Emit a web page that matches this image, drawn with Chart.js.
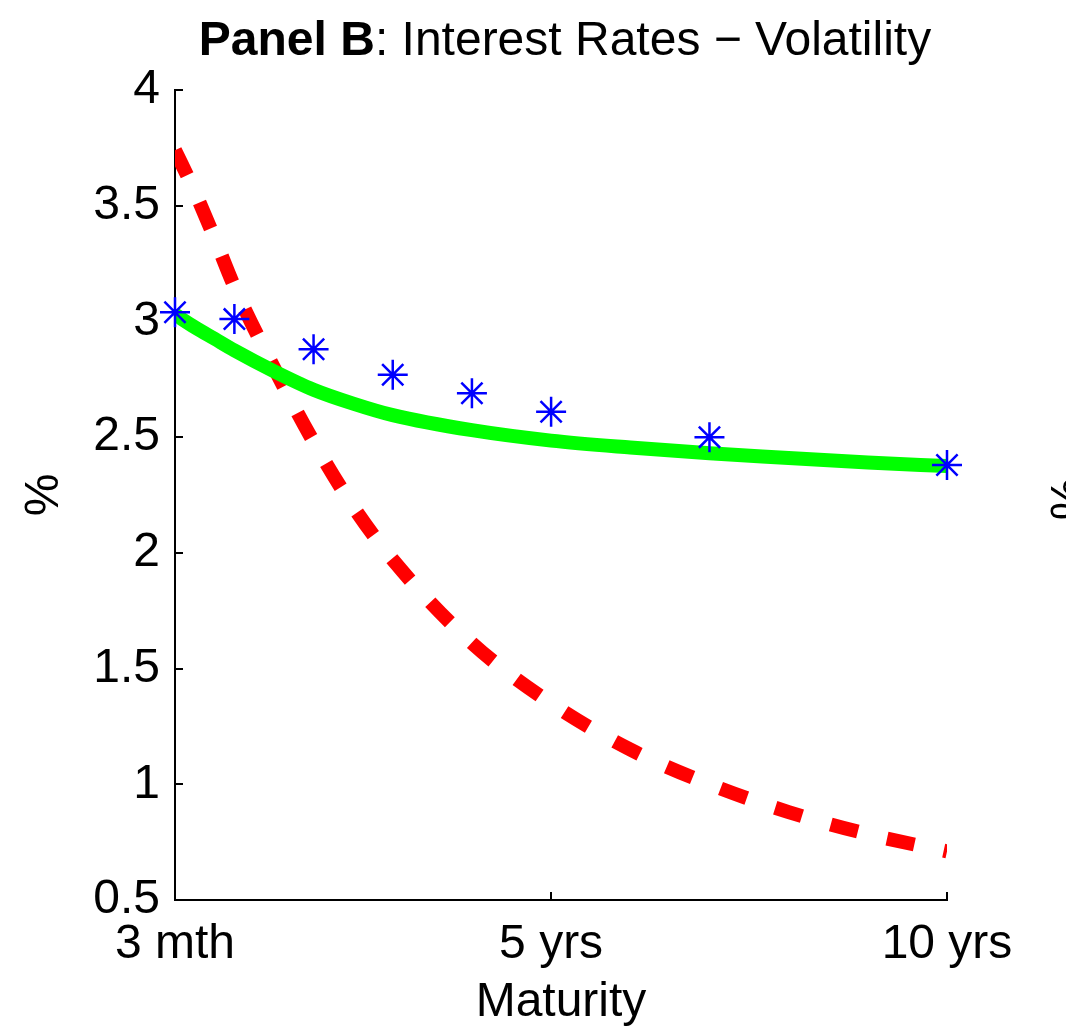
<!DOCTYPE html>
<html>
<head>
<meta charset="utf-8">
<script src="https://cdn.jsdelivr.net/npm/chart.js@4.4.1/dist/chart.umd.min.js"></script>
<style>
  html, body { margin: 0; padding: 0; background: #fff; }
  #wrap { width: 1070px; height: 1028px; }
</style>
</head>
<body>
<div id="wrap"><canvas id="volChart" width="1070" height="1028"></canvas></div>
<script>
// maturities in months
const curveMonths = [3, 6, 9, 12, 18, 24, 30, 36, 48, 60, 72, 84, 96, 108, 120];
const fittedVol = [3.03, 2.975, 2.925, 2.875, 2.785, 2.705, 2.645, 2.595, 2.53, 2.485, 2.455, 2.43, 2.41, 2.39, 2.375];
const altVol = [3.74, 3.56, 3.36, 3.15, 2.80, 2.48, 2.20, 1.97, 1.61, 1.35, 1.15, 1.00, 0.88, 0.785, 0.71];

const dataMonths = [3, 12, 24, 36, 48, 60, 84, 120];
const dataVol = [3.04, 3.01, 2.88, 2.77, 2.69, 2.61, 2.50, 2.38];

const xTickValues = [3, 60, 120];
const xTickLabels = ["3 mth", "5 yrs", "10 yrs"];

const FONT = '"Liberation Sans", Arial, Helvetica, sans-serif';
Chart.defaults.font.family = FONT;
Chart.defaults.color = "#000";

function toPoints(xs, ys) {
  return xs.map((x, i) => ({ x: x, y: ys[i] }));
}

// --------- title + clipped neighbour label ----------
const textPlugin = {
  id: "panelText",
  afterDraw(chart) {
    const ctx = chart.ctx;
    ctx.save();
    ctx.fillStyle = "#000";
    ctx.textBaseline = "alphabetic";
    const boldPart = "Panel B";
    const restPart = ": Interest Rates \u2212 Volatility";
    ctx.font = "bold 48px " + FONT;
    const w1 = ctx.measureText(boldPart).width;
    ctx.font = "48px " + FONT;
    const w2 = ctx.measureText(restPart).width;
    const x0 = 565 - (w1 + w2) / 2;
    ctx.font = "bold 48px " + FONT;
    ctx.textAlign = "left";
    ctx.fillText(boldPart, x0, 55);
    ctx.font = "48px " + FONT;
    ctx.fillText(restPart, x0 + w1, 55);

    // y label of the next panel, cut by the edge
    ctx.beginPath();
    ctx.rect(1000, 440, 66, 120);
    ctx.clip();
    ctx.translate(1071, 499);
    ctx.rotate(-Math.PI / 2);
    ctx.textAlign = "center";
    ctx.textBaseline = "middle";
    ctx.fillText("%", 0, 0);
    ctx.restore();
  },
};

new Chart(document.getElementById("volChart"), {
  type: "line",
  data: {
    datasets: [
      {
        label: "Data",
        data: toPoints(dataMonths, dataVol),
        showLine: false,
        pointStyle: "star",
        pointRadius: 15,
        pointBorderWidth: 2.5,
        borderColor: "#0000ff",
        backgroundColor: "#0000ff",
        clip: false,
        order: 0,
      },
      {
        label: "Fitted",
        data: toPoints(curveMonths, fittedVol),
        borderColor: "#00ff00",
        borderWidth: 14,
        borderCapStyle: "butt",
        pointRadius: 0,
        cubicInterpolationMode: "monotone",
        order: 1,
      },
      {
        label: "Alternative",
        data: toPoints(curveMonths, altVol),
        borderColor: "#ff0000",
        borderWidth: 14,
        borderDash: [28, 30],
        borderCapStyle: "butt",
        pointRadius: 0,
        cubicInterpolationMode: "monotone",
        order: 2,
      },
    ],
  },
  options: {
    responsive: false,
    animation: false,
    layout: { padding: { top: 90, right: 123, left: 0, bottom: 0 } },
    plugins: {
      legend: { display: false },
      tooltip: { enabled: false },
      title: { display: false },
    },
    scales: {
      x: {
        type: "linear",
        min: 3,
        max: 120,
        afterBuildTicks: (s) => {
          s.ticks = xTickValues.map((v) => ({ value: v }));
        },
        afterFit: (s) => {
          s.height = 128;
        },
        ticks: {
          autoSkip: false,
          maxRotation: 0,
          padding: 29,
          font: { size: 48, lineHeight: 1 },
          callback: (v, i) => xTickLabels[i],
        },
        grid: { drawOnChartArea: false, tickLength: -8, color: "#000", lineWidth: 2 },
        border: { color: "#000", width: 2 },
        title: {
          display: true,
          text: "Maturity",
          font: { size: 48, lineHeight: 1 },
          padding: { top: 0, bottom: 1 },
        },
      },
      y: {
        min: 0.5,
        max: 4,
        afterFit: (s) => {
          s.width = 175;
        },
        ticks: {
          stepSize: 0.5,
          padding: 23,
          font: { size: 48, lineHeight: 1 },
          callback: (v) => String(Number(v.toFixed(1))),
        },
        grid: { drawOnChartArea: false, tickLength: -8, color: "#000", lineWidth: 2 },
        border: { color: "#000", width: 2 },
        title: {
          display: true,
          text: "%",
          font: { size: 48, lineHeight: 1 },
          padding: { top: 21, bottom: 0 },
        },
      },
    },
  },
  plugins: [textPlugin],
});
</script>
</body>
</html>
